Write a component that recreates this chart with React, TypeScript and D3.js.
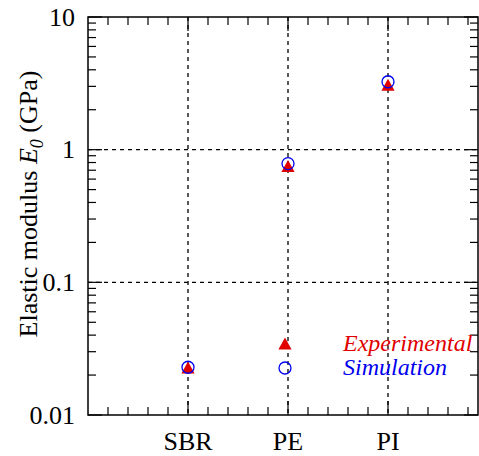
import React from "react";
import * as d3 from "d3";

const categories = ["SBR", "PE", "PI"];
const categoryPos = [1, 2, 3];
const experimental = [0.0226, 0.745, 3.05];
const simulation = [0.0229, 0.785, 3.25];
const yTickValues = [0.01, 0.1, 1, 10];
const yTickLabels = ["0.01", "0.1", "1", "10"];
const legendLabels = ["Experimental", "Simulation"];

const W = 479, H = 456;
const M = { left: 88, top: 17, right: 478, bottom: 415 };

export default function App() {
  const x = d3.scaleLinear().domain([0, 3.9]).range([M.left, M.right]);
  const y = d3.scaleLog().domain([0.01, 10]).range([M.bottom, M.top]);
  const font = "Liberation Serif";

  const xMinor = d3.range(0.2, 3.9, 0.2).filter(v => Math.abs(v - Math.round(v)) > 1e-6);
  const yMinor: number[] = [];
  for (let e = -2; e < 1; e++) for (let k = 2; k <= 9; k++) yMinor.push(k * Math.pow(10, e));

  const tri = (cx: number, cy: number, s: number) =>
    `M${cx},${cy - s * 0.55} L${cx + s * 0.55},${cy + s * 0.45} L${cx - s * 0.55},${cy + s * 0.45} Z`;

  return (
    <svg width={W} height={H} style={{ position: "absolute", left: 0, top: 0, background: "#fff" }}>
      {/* grid */}
      {[0.1, 1].map(v => (
        <line key={"gy" + v} x1={M.left} x2={M.right} y1={y(v)} y2={y(v)} stroke="#000" strokeWidth={1.2} strokeDasharray="4,4" />
      ))}
      {categoryPos.map(v => (
        <line key={"gx" + v} x1={x(v)} x2={x(v)} y1={M.top} y2={M.bottom} stroke="#222" strokeWidth={1.5} strokeDasharray="4,4" />
      ))}
      {/* x ticks */}
      {xMinor.map(v => (
        <g key={"xm" + v}>
          <line x1={x(v)} x2={x(v)} y1={M.bottom} y2={M.bottom - 8} stroke="#000" strokeWidth={1.2} />
          <line x1={x(v)} x2={x(v)} y1={M.top} y2={M.top + 8} stroke="#000" strokeWidth={1.2} />
        </g>
      ))}
      {categoryPos.map(v => (
        <g key={"xM" + v}>
          <line x1={x(v)} x2={x(v)} y1={M.bottom} y2={M.bottom - 14} stroke="#000" strokeWidth={1.2} />
          <line x1={x(v)} x2={x(v)} y1={M.top} y2={M.top + 14} stroke="#000" strokeWidth={1.2} />
        </g>
      ))}
      {/* y ticks */}
      {yMinor.map(v => (
        <g key={"ym" + v}>
          <line x1={M.left} x2={M.left + 8} y1={y(v)} y2={y(v)} stroke="#000" strokeWidth={1.2} />
          <line x1={M.right} x2={M.right - 8} y1={y(v)} y2={y(v)} stroke="#000" strokeWidth={1.2} />
        </g>
      ))}
      {yTickValues.map(v => (
        <g key={"yM" + v}>
          <line x1={M.left} x2={M.left + 14} y1={y(v)} y2={y(v)} stroke="#000" strokeWidth={1.2} />
          <line x1={M.right} x2={M.right - 14} y1={y(v)} y2={y(v)} stroke="#000" strokeWidth={1.2} />
        </g>
      ))}
      {/* frame */}
      <rect x={M.left} y={M.top} width={M.right - M.left} height={M.bottom - M.top} fill="none" stroke="#000" strokeWidth={1.5} />
      {/* y labels */}
      {yTickValues.map((v, i) => (
        <text key={"yl" + v} x={75} y={y(v) + 8.5} textAnchor="end" fontFamily={font} fontSize={26} fill="#000">
          {yTickLabels[i]}
        </text>
      ))}
      {/* x labels */}
      {categories.map((c, i) => (
        <text key={c} x={x(categoryPos[i])} y={450} textAnchor="middle" fontFamily={font} fontSize={26} fill="#000">
          {c}
        </text>
      ))}
      {/* y axis title */}
      <text transform={`translate(37,204) rotate(-90)`} textAnchor="middle" fontFamily={font} fontSize={26} fill="#000">
        Elastic modulus <tspan fontStyle="italic">E</tspan>
        <tspan fontStyle="italic" fontSize={18} dy={6}>0</tspan>
        <tspan dy={-6}> (GPa)</tspan>
      </text>
      {/* data */}
      {experimental.map((v, i) => (
        <path key={"e" + i} d={tri(x(categoryPos[i]), y(v), 12)} fill="#e00000" />
      ))}
      {simulation.map((v, i) => (
        <circle key={"s" + i} cx={x(categoryPos[i])} cy={y(v)} r={6} fill="none" stroke="#0000ee" strokeWidth={1.3} />
      ))}
      {/* legend */}
      <path d={tri(285, 344, 12)} fill="#e00000" />
      <circle cx={285} cy={368} r={6} fill="none" stroke="#0000ee" strokeWidth={1.3} />
      <text x={343} y={351} fontFamily={font} fontStyle="italic" fontSize={24} fill="#e00000">{legendLabels[0]}</text>
      <text x={343} y={375} fontFamily={font} fontStyle="italic" fontSize={24} fill="#0000ee">{legendLabels[1]}</text>
    </svg>
  );
}
